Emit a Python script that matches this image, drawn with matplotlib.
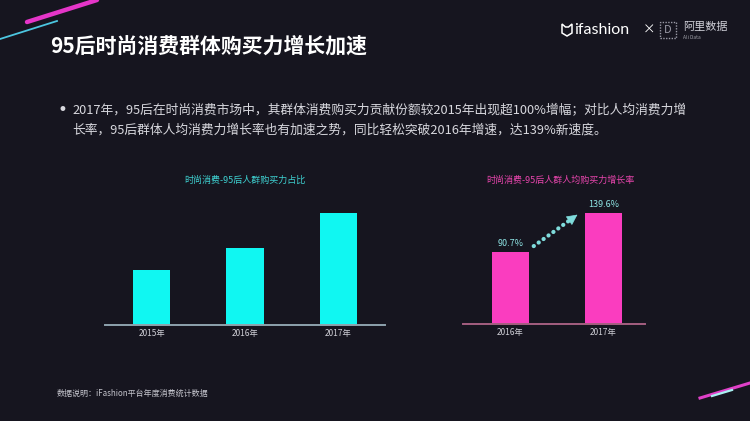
import matplotlib
matplotlib.use("Agg")
import matplotlib.pyplot as plt
from matplotlib.patches import Polygon, Rectangle
from matplotlib.lines import Line2D

plt.rcParams['font.family'] = ['Noto Sans CJK SC', 'DejaVu Sans']

# ---- data ----
left_categories = ["2015年", "2016年", "2017年"]
left_values = [55, 77, 112]          # relative purchasing-power share (estimated, no labels)
right_categories = ["2016年", "2017年"]
right_values = [90.7, 139.6]          # growth rate %
right_labels = ["90.7%", "139.6%"]

title = "95后时尚消费群体购买力增长加速"
bullet_line1 = "2017年，95后在时尚消费市场中，其群体消费购买力贡献份额较2015年出现超100%增幅；对比人均消费力增"
bullet_line2 = "长率，95后群体人均消费力增长率也有加速之势，同比轻松突破2016年增速，达139%新速度。"
left_title = "时尚消费-95后人群购买力占比"
right_title = "时尚消费-95后人群人均购买力增长率"
footnote = "数据说明：iFashion平台年度消费统计数据"

W, H = 750, 421
BG = "#16151f"
CYAN = "#10f7f2"
PINK = "#fa3dbf"

fig = plt.figure(figsize=(W / 100, H / 100), dpi=100, facecolor=BG)

def fx(x):
    return x / W

def fy(y):
    return 1 - y / H

def add_ax(x0, x1, ytop, ybot):
    ax = fig.add_axes([fx(x0), fy(ybot), (x1 - x0) / W, (ybot - ytop) / H])
    ax.set_facecolor("none")
    for s in ["top", "right", "left"]:
        ax.spines[s].set_visible(False)
    ax.set_yticks([])
    ax.tick_params(axis="x", length=0, pad=3)
    return ax

# ---- decorative streaks ----
fig.add_artist(Line2D([fx(27), fx(97)], [fy(22), fy(0)], color="#e535c8", lw=3.2, solid_capstyle="round"))
fig.add_artist(Line2D([fx(0), fx(57)], [fy(39), fy(21)], color="#4cc6e0", lw=1.3))
fig.add_artist(Line2D([fx(700), fx(750)], [fy(398), fy(383)], color="#e040c8", lw=2.2))
fig.add_artist(Line2D([fx(712), fx(732)], [fy(396), fy(390)], color="#a8f0f0", lw=1.6))

# ---- header ----
fig.text(fx(50), fy(46), title, color="white", fontsize=15, fontweight="bold", va="center", ha="left")

# logo
cat = Polygon([(fx(562), fy(24)), (fx(565.5), fy(27)), (fx(568.5), fy(27)), (fx(572), fy(24)),
               (fx(572), fy(33)), (fx(567), fy(36)), (fx(562), fy(33))],
              closed=True, fill=False, edgecolor="white", lw=1.1, transform=fig.transFigure)
fig.add_artist(cat)
fig.text(fx(574), fy(30), "ifashion", color="white", fontsize=11.5, va="center", ha="left", family=["Lato", "DejaVu Sans"])
fig.text(fx(643), fy(30), "×", color="white", fontsize=9, va="center", ha="left")
fig.add_artist(Rectangle((fx(660), fy(38)), 16 / W, 16 / H, fill=False, edgecolor="#9a9aa6",
                         lw=1.0, linestyle=(0, (1, 1)), transform=fig.transFigure))
fig.text(fx(668), fy(30), "D", color="#9a9aa6", fontsize=8, va="center", ha="center")
fig.text(fx(683), fy(27), "阿里数据", color="#d0d0d8", fontsize=8, va="center", ha="left")
fig.text(fx(683), fy(37.5), "Ali Data", color="#a0a0a8", fontsize=3.5, va="center", ha="left")

# bullet text
fig.text(fx(58), fy(110), "•", color="#d8d8de", fontsize=12, va="center", ha="left", family=["DejaVu Sans"])
fig.text(fx(72), fy(110), bullet_line1, color="#d8d8de", fontsize=9.2, va="center", ha="left")
fig.text(fx(72), fy(130), bullet_line2, color="#d8d8de", fontsize=9.2, va="center", ha="left")

# ---- left chart ----
axl = add_ax(105, 385, 200, 325)
xl = list(range(len(left_categories)))
axl.bar(xl, left_values, width=0.4, color=CYAN)
axl.set_xlim(-0.5, len(left_categories) - 0.5)
axl.set_ylim(0, 125)
axl.set_xticks(xl)
axl.set_xticklabels(left_categories, color="#cfcfd6", fontsize=6)
axl.spines["bottom"].set_color("#8ea2ad")
axl.spines["bottom"].set_linewidth(1.4)
fig.text(fx(245), fy(180), left_title, color="#3fd3d3", fontsize=6.5, va="center", ha="center")

# ---- right chart ----
axr = add_ax(463, 645, 199, 324)
xr = list(range(len(right_categories)))
axr.bar(xr, right_values, width=0.4, color=PINK)
axr.set_xlim(-0.51, 1.446)
ymax = right_values[1] * 125 / 111
axr.set_ylim(0, ymax)
axr.set_xticks(xr)
axr.set_xticklabels(right_categories, color="#cfcfd6", fontsize=6)
axr.spines["bottom"].set_color("#a45e80")
axr.spines["bottom"].set_linewidth(1.4)
for x, v, lab in zip(xr, right_values, right_labels):
    axr.text(x, v + ymax * 0.035, lab, color="#8fe6e6", fontsize=6.5, ha="center", va="bottom")
fig.text(fx(560), fy(180), right_title, color="#e845ad", fontsize=6.5, va="center", ha="center")

# dotted growth arrow
x0, y0 = xr[0] + 0.25, right_values[0] * 1.08
x1, y1 = xr[1] - 0.28, right_values[1] * 0.985
xm, ym = x0 + (x1 - x0) * 0.8, y0 + (y1 - y0) * 0.8
axr.plot([x0, xm], [y0, ym], color="#7fdcdc", lw=3.0, linestyle=(0, (0.05, 1.4)),
         dash_capstyle="round")
axr.annotate("", xy=(x1, y1), xytext=(xm, ym),
             arrowprops=dict(arrowstyle="-|>", color="#7fdcdc", lw=0.5,
                             mutation_scale=17, shrinkA=0, shrinkB=0))

# footnote
fig.text(fx(57), fy(393), footnote, color="#c4c4cc", fontsize=5.8, va="center", ha="left")

fig.savefig("out.png", dpi=100, facecolor=BG)
